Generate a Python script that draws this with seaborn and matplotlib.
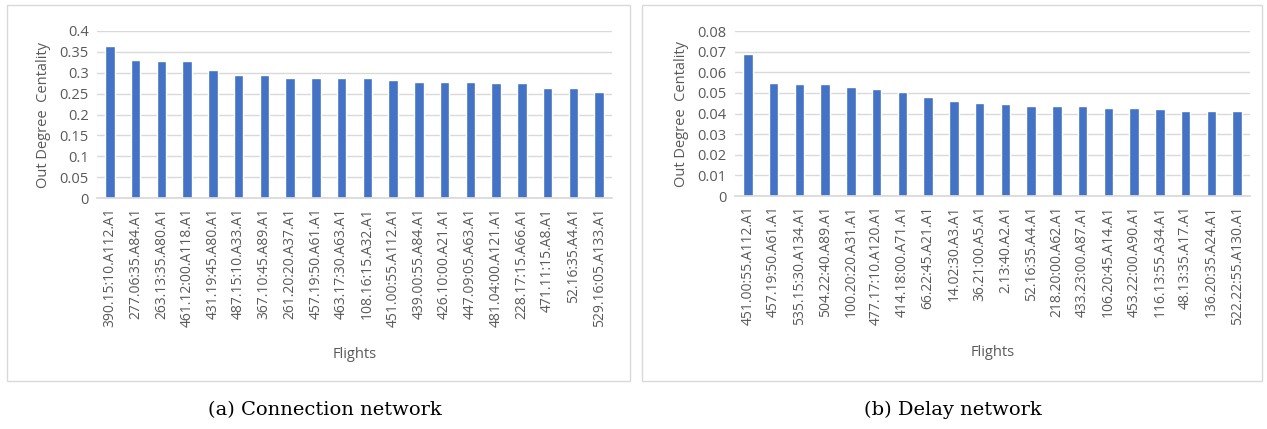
import seaborn as sns
import matplotlib.pyplot as plt
import pandas as pd
from matplotlib.patches import Rectangle

# =========================================================
# DATA
# =========================================================

conn_flights = [
    "390.15:10.A112.A1", "277.06:35.A84.A1", "263.13:35.A80.A1",
    "461.12:00.A118.A1", "431.19:45.A80.A1", "487.15:10.A33.A1",
    "367.10:45.A89.A1", "261.20:20.A37.A1", "457.19:50.A61.A1",
    "463.17:30.A63.A1", "108.16:15.A32.A1", "451.00:55.A112.A1",
    "439.00:55.A84.A1", "426.10:00.A21.A1", "447.09:05.A63.A1",
    "481.04:00.A121.A1", "228.17:15.A66.A1", "471.11:15.A8.A1",
    "52.16:35.A4.A1", "529.16:05.A133.A1",
]
conn_values = [
    0.363, 0.331, 0.327, 0.327, 0.307, 0.295, 0.295, 0.287, 0.287, 0.287,
    0.287, 0.283, 0.279, 0.279, 0.279, 0.275, 0.275, 0.263, 0.263, 0.255,
]

delay_flights = [
    "451.00:55.A112.A1", "457.19:50.A61.A1", "535.15:30.A134.A1",
    "504.22:40.A89.A1", "100.20:20.A31.A1", "477.17:10.A120.A1",
    "414.18:00.A71.A1", "66.22:45.A21.A1", "14.02:30.A3.A1",
    "36.21:00.A5.A1", "2.13:40.A2.A1", "52.16:35.A4.A1",
    "218.20:00.A62.A1", "433.23:00.A87.A1", "106.20:45.A14.A1",
    "453.22:00.A90.A1", "116.13:55.A34.A1", "48.13:35.A17.A1",
    "136.20:35.A24.A1", "522.22:55.A130.A1",
]
delay_values = [
    0.0688, 0.0550, 0.0543, 0.0543, 0.0527, 0.0518, 0.0502, 0.0478, 0.0461,
    0.0453, 0.0445, 0.0437, 0.0437, 0.0437, 0.0429, 0.0429, 0.0421, 0.0413,
    0.0413, 0.0413,
]

# =========================================================
# SETTINGS
# =========================================================

sns.set_theme(style="white")
plt.rcParams["font.family"] = ["Open Sans", "DejaVu Sans"]

BAR = "#4472C4"
TXT = "#595959"
GRID = "#D9D9D9"

fig = plt.figure(figsize=(12.67, 4.29), dpi=100)

# panel frames
for x0, x1 in [(7, 630), (642, 1262)]:
    fig.patches.append(Rectangle(
        (x0 / 1267, 1 - 381 / 429), (x1 - x0) / 1267, (381 - 5) / 429,
        transform=fig.transFigure, fill=False, edgecolor=GRID, linewidth=1
    ))

panels = [
    (conn_flights, conn_values, [97, 612, 31, 198], 0.4, 0.05,
     "(a) Connection network", 325),
    (delay_flights, delay_values, [735, 1250, 31, 196], 0.08, 0.01,
     "(b) Delay network", 953),
]

for flights, values, box, ymax, step, caption, cap_x in panels:

    left, right, top, bottom = box
    ax = fig.add_axes([
        left / 1267, 1 - bottom / 429,
        (right - left) / 1267, (bottom - top) / 429
    ])

    df = pd.DataFrame({"Flights": flights, "Centrality": values})

    sns.barplot(
        data=df,
        x="Flights",
        y="Centrality",
        color=BAR,
        saturation=1,
        width=0.36,
        ax=ax
    )

    ticks = [round(i * step, 3) for i in range(int(round(ymax / step)) + 1)]
    ax.set_ylim(0, ymax)
    ax.set_yticks(ticks)
    ax.set_yticklabels([f"{t:g}" for t in ticks])
    ax.set_xlim(-0.5, len(flights) - 0.5)
    ax.yaxis.grid(True, color=GRID, linewidth=1)
    ax.set_axisbelow(True)

    for s in ["top", "right", "left"]:
        ax.spines[s].set_visible(False)
    ax.spines["bottom"].set_color(GRID)

    ax.tick_params(axis="x", rotation=90, labelsize=10, colors=TXT,
                   length=0, pad=7)
    ax.tick_params(axis="y", labelsize=10.5, colors=TXT, length=0, pad=6)

    ax.set_xlabel("Flights", fontsize=10.5, color=TXT, labelpad=14)
    ax.set_ylabel("Out Degree  Centality", fontsize=10.5, color=TXT,
                  labelpad=6)

    fig.text(
        cap_x / 1267,
        1 - 410 / 429,
        caption,
        ha="center",
        va="center",
        fontsize=14,
        family="DejaVu Serif",
        color="black"
    )

plt.savefig("out.png", dpi=100)
